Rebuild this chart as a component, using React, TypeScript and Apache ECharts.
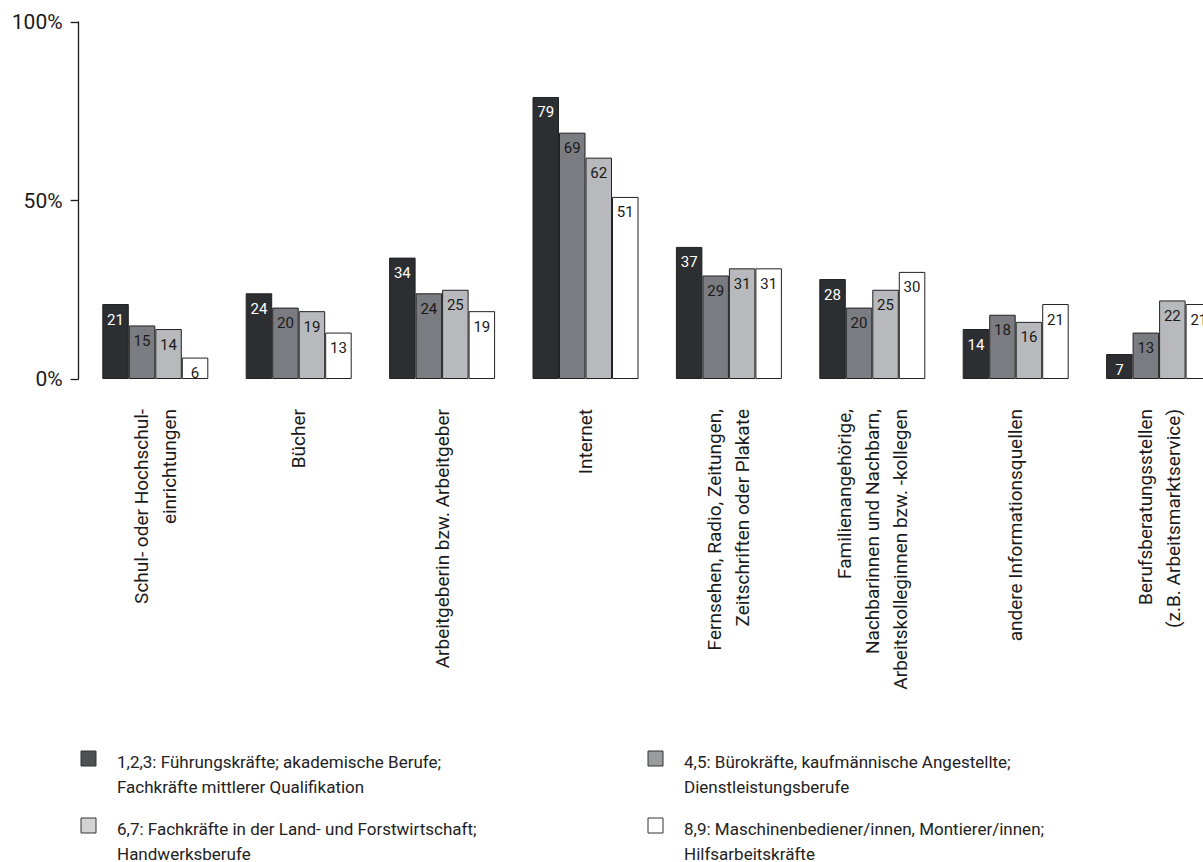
import React, { useEffect, useRef } from "react";
import * as echarts from "echarts";

const categories = [
  "Schul- oder Hochschul-\neinrichtungen",
  "Bücher",
  "Arbeitgeberin bzw. Arbeitgeber",
  "Internet",
  "Fernsehen, Radio, Zeitungen,\nZeitschriften oder Plakate",
  "Familienangehörige,\nNachbarinnen und Nachbarn,\nArbeitskolleginnen bzw. -kollegen",
  "andere Informationsquellen",
  "Berufsberatungsstellen\n(z.B. Arbeitsmarktservice)",
];

const seriesNames = [
  "1,2,3: Führungskräfte; akademische Berufe;\nFachkräfte mittlerer Qualifikation",
  "4,5: Bürokräfte, kaufmännische Angestellte;\nDienstleistungsberufe",
  "6,7: Fachkräfte in der Land- und Forstwirtschaft;\nHandwerksberufe",
  "8,9: Maschinenbediener/innen, Montierer/innen;\nHilfsarbeitskräfte",
];

const group123 = [21, 24, 34, 79, 37, 28, 14, 7];
const group45 = [15, 20, 24, 69, 29, 20, 18, 13];
const group67 = [14, 19, 25, 62, 31, 25, 16, 22];
const group89 = [6, 13, 19, 51, 31, 30, 21, 21];
const seriesValues = [group123, group45, group67, group89];

const yTickValues = [0, 50, 100];

const barColors = ["#2c2e32", "#7b7c81", "#b8b9bc", "#ffffff"];
const labelColors = ["#ffffff", "#1a1a1a", "#1a1a1a", "#1a1a1a"];
const swatchColors = ["#4f5052", "#9b9c9e", "#d3d3d4", "#ffffff"];

const FONT = "Roboto, 'Noto Sans', sans-serif";

export default function App() {
  const ref = useRef<HTMLDivElement>(null);

  useEffect(() => {
    if (!ref.current) return;
    const chart = echarts.init(ref.current, undefined, { renderer: "svg" });

    const legendPos = [
      { x: 81, y: 749 },
      { x: 648, y: 749 },
      { x: 81, y: 816 },
      { x: 648, y: 816 },
    ];
    const legendGraphics: any[] = [];
    seriesNames.forEach((name, i) => {
      const p = legendPos[i];
      legendGraphics.push({
        type: "rect",
        shape: { x: p.x, y: p.y + 2, width: 15, height: 15 },
        style: { fill: swatchColors[i], stroke: "#333", lineWidth: 1 },
      });
      legendGraphics.push({
        type: "text",
        x: p.x + 36,
        y: p.y,
        style: {
          text: name,
          font: `17px ${FONT}`,
          fill: "#222",
          lineHeight: 25,
          verticalAlign: "top",
          align: "left",
        },
      });
    });

    chart.setOption({
      animation: false,
      backgroundColor: "#ffffff",
      grid: {
        left: 83.6,
        right: 9.2,
        top: 22,
        bottom: 483,
        containLabel: false,
        outerBoundsMode: "none",
      },
      xAxis: {
        type: "category",
        data: categories,
        axisLine: { show: false },
        axisTick: { show: false },
        axisLabel: {
          rotate: 90,
          margin: 30,
          interval: 0,
          fontSize: 19,
          lineHeight: 28,
          color: "#1a1a1a",
          fontFamily: FONT,
        },
      },
      yAxis: {
        type: "value",
        min: 0,
        max: 100,
        interval: 50,
        offset: 5,
        axisLine: { show: true, lineStyle: { color: "#1a1a1a", width: 1.3 } },
        axisTick: { show: true, length: 8, lineStyle: { color: "#1a1a1a", width: 1.3 } },
        splitLine: { show: false },
        axisLabel: {
          margin: 16,
          fontSize: 21,
          color: "#1a1a1a",
          fontFamily: FONT,
          formatter: (v: number) => (yTickValues.includes(v) ? `${v}%` : ""),
        },
      },
      series: seriesValues.map((vals, i) => ({
        type: "bar",
        name: seriesNames[i],
        data: vals,
        barWidth: 26.5,
        barGap: "0%",
        itemStyle: { color: barColors[i], borderColor: "#222", borderWidth: 1 },
        label: {
          show: true,
          position: "insideTop",
          distance: 8,
          fontSize: 15,
          color: labelColors[i],
          fontFamily: FONT,
        },
      })),
      graphic: legendGraphics,
    });

    return () => chart.dispose();
  }, []);

  return (
    <div
      ref={ref}
      style={{ position: "fixed", left: 0, top: 0, width: 1240, height: 862, background: "#fff" }}
    />
  );
}
